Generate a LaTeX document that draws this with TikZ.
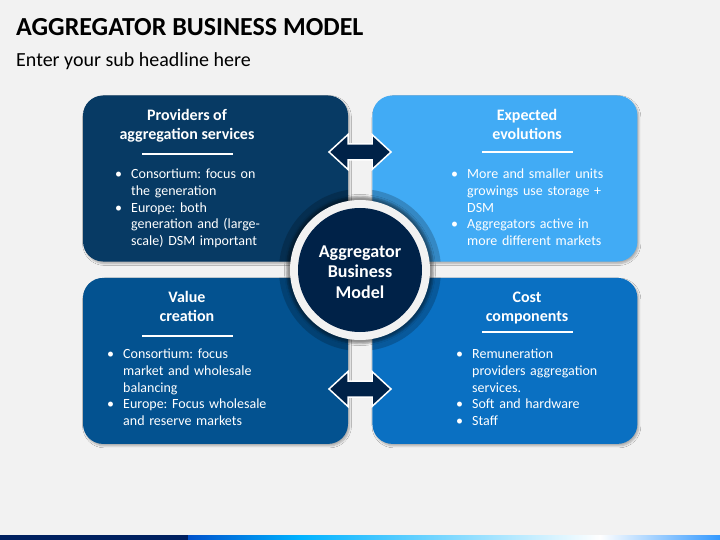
\documentclass[tikz,border=0pt]{standalone}
\usepackage{fontspec}
\setmainfont{Carlito}
\usetikzlibrary{positioning}
\usetikzlibrary{shadows.blur}
\frenchspacing

\definecolor{pageGray}{HTML}{F2F2F2}
\definecolor{navyQ}{HTML}{073A64}
\definecolor{skyQ}{HTML}{41ABF5}
\definecolor{seaQ}{HTML}{035290}
\definecolor{blueQ}{HTML}{0A70C2}
\definecolor{hubNavy}{HTML}{002248}
\definecolor{barNavy}{HTML}{002060}

% bullet lists: the node sits at the text edge, the dot hangs to its left
\newcommand{\bitem}[1]{\llap{\makebox[16pt][l]{\textbullet}}\strut#1}

\tikzset{
  quadrant/.style={rectangle, rounded corners=20pt, minimum width=265pt, minimum height=166pt, inner sep=0pt,
    blur shadow={shadow xshift=1.5pt, shadow yshift=-2pt, shadow opacity=30, shadow blur steps=6}},
  headline/.style={text=white, font=\bfseries\fontsize{16}{19}\selectfont, align=center, inner sep=0pt},
  bullets/.style={text=white, font=\fontsize{14}{16.8}\selectfont, text width=160pt, align=left, inner sep=0pt, anchor=north west},
  rule/.style={white, line width=2pt},
  twoway/.style={fill=hubNavy, draw=white, line width=1.5pt, line join=miter}
}

\begin{document}
\begin{tikzpicture}[x=1pt,y=-1pt]
  \fill[pageGray] (0,0) rectangle (720,540);
  \useasboundingbox (0,0) rectangle (720,540);

  \node[anchor=base west, inner sep=0pt, font=\bfseries\fontsize{26}{30}\selectfont] (mainTitle) at (16,36) {AGGREGATOR BUSINESS MODEL};
  \node[anchor=base west, inner sep=0pt, font=\fontsize{20}{24}\selectfont] (subTitle) at (16,67) {Enter your sub headline here};

  % the four quarters
  \node[quadrant, fill=navyQ] (provBox) at (215.5,178.5) {};
  \node[quadrant, fill=skyQ, right=24pt of provBox] (evolBox) {};
  \node[quadrant, fill=seaQ, below=16pt of provBox] (valueBox) {};
  \node[quadrant, fill=blueQ, below=16pt of evolBox] (costBox) {};

  % darker ring, only on the quarters
  \begin{scope}
    \clip (provBox.north west) rectangle (provBox.south east) (evolBox.north west) rectangle (evolBox.south east)
          (valueBox.north west) rectangle (valueBox.south east) (costBox.north west) rectangle (costBox.south east);
    \fill[black, opacity=.2] (360,270) circle[radius=81];
  \end{scope}

  \node[circle, minimum size=140pt, inner sep=0pt, fill=pageGray,
        blur shadow={shadow xshift=0pt, shadow yshift=0pt, shadow scale=1.05, shadow opacity=40}] (hubRim) at (360,270) {};
  \node[circle, minimum size=124pt, inner sep=0pt, fill=hubNavy] (hub) at (hubRim.center) {};
  \node[text=white, align=center, inner sep=0pt, font=\bfseries\fontsize{18}{20.5}\selectfont] (hubText) at (360,272) {Aggregator\\Business\\Model};

  \foreach \ay in {152,389}{
    \begin{scope}[shift={(360,\ay)}]
      \draw[twoway] (-31,0) -- (-12,-17.5) -- (-12,-8) -- (12,-8) -- (12,-17.5) -- (31,0)
                    -- (12,17.5) -- (12,8) -- (-12,8) -- (-12,17.5) -- cycle;
    \end{scope}
  }

  % headings
  \node[headline] (provTitle) at (187,125.5) {Providers of\\aggregation services};
  \node[headline] (evolTitle) at (527,124.5) {Expected\\evolutions};
  \node[headline] (valueTitle) at (187,306.5) {Value\\creation};
  \node[headline] (costTitle) at (527,308.5) {Cost\\components};
  \foreach \rx/\ry in {142/154, 482/152, 142/336, 482/332}
    \draw[rule] (\rx,\ry) -- ++(91,0);

  % bullet texts
  \node[bullets] (provList) at (131,166.5) {\noindent\bitem{Consortium: focus on\newline the generation}\newline
    \bitem{Europe: both\newline generation and (large-\newline scale) DSM important}};
  \node[bullets] (evolList) at (467,166.5) {\noindent\bitem{More and smaller units\newline growings use storage +\newline DSM}\newline
    \bitem{Aggregators active in\newline more different markets}};
  \node[bullets] (valueList) at (123,346.5) {\noindent\bitem{Consortium: focus\newline market and wholesale\newline balancing}\newline
    \bitem{Europe: Focus wholesale\newline and reserve markets}};
  \node[bullets] (costList) at (472,346.5) {\noindent\bitem{Remuneration\newline providers aggregation\newline services.}\newline
    \bitem{Soft and hardware}\newline\bitem{Staff}};

  % strip at the foot
  \fill[barNavy] (0,535) rectangle (188,540);
  \shade[left color=blue!60!cyan!80!black, right color=cyan!70!blue] (188,535) rectangle (300,540);
  \shade[left color=cyan!70!blue, right color=white] (300,535) rectangle (600,540);
  \shade[left color=white, right color=cyan!50!blue!80] (600,535) rectangle (720,540);
\end{tikzpicture}
\end{document}
